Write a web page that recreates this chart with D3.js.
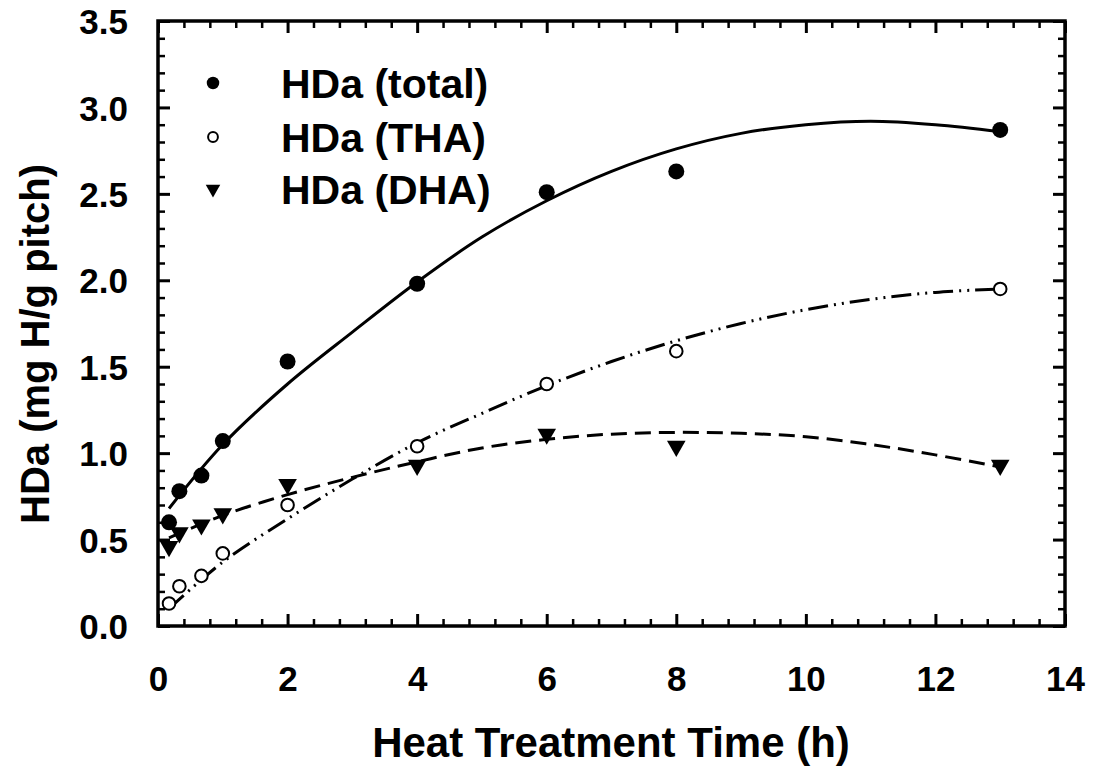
<!DOCTYPE html>
<html>
<head>
<meta charset="utf-8">
<script src="https://cdn.jsdelivr.net/npm/d3@7/dist/d3.min.js"></script>
<style>
  html, body { margin: 0; padding: 0; background: #fff; }
  svg { display: block; }
  text { font-family: "Liberation Sans", Arial, sans-serif; font-weight: bold; fill: #000; }
</style>
</head>
<body>
<svg id="chart" width="1094" height="771"></svg>
<script>
// ---- data ----
const times = [0.17, 0.33, 0.67, 1, 2, 4, 6, 8, 13];
const hdaTotal = [0.60, 0.78, 0.87, 1.07, 1.53, 1.98, 2.51, 2.63, 2.87];
const hdaTHA   = [0.13, 0.23, 0.29, 0.42, 0.70, 1.04, 1.40, 1.59, 1.95];
const hdaDHA   = [0.46, 0.54, 0.585, 0.65, 0.82, 0.93, 1.11, 1.04, 0.93];

// fitted trend curves as drawn in the reference
const fitX     = [0.17, 1, 2, 3, 4, 5, 6, 7, 8, 9, 10, 11, 12, 13];
const fitTotal = [0.68, 1.05, 1.40, 1.70, 1.99, 2.25, 2.46, 2.63, 2.76, 2.85, 2.90, 2.92, 2.90, 2.86];
const fitTHA   = [0.10, 0.37, 0.62, 0.85, 1.06, 1.23, 1.39, 1.53, 1.65, 1.75, 1.83, 1.89, 1.93, 1.95];
const fitDHA   = [0.51, 0.64, 0.76, 0.86, 0.95, 1.03, 1.08, 1.11, 1.12, 1.115, 1.095, 1.05, 0.99, 0.92];

const xMajor = [0, 2, 4, 6, 8, 10, 12, 14];
const yMajor = [0, 0.5, 1.0, 1.5, 2.0, 2.5, 3.0, 3.5];
const legendLabels = ["HDa (total)", "HDa (THA)", "HDa (DHA)"];
const xTitle = "Heat Treatment Time (h)";
const yTitle = "HDa (mg H/g pitch)";

// ---- layout ----
const svg = d3.select("#chart");
const L = 158, R = 1065, T = 21, B = 626;
const x = d3.scaleLinear().domain([0, 14]).range([L, R]);
const y = d3.scaleLinear().domain([0, 3.5]).range([B, T]);

const xMinor = d3.range(0, 14.0001, 0.4).filter(v => Math.abs(v / 2 - Math.round(v / 2)) > 1e-6);
const yMinor = d3.range(0, 3.5001, 0.1).filter(v => Math.abs(v / 0.5 - Math.round(v / 0.5)) > 1e-6);

function styleAxis(g, w) {
  g.select(".domain").remove();
  g.selectAll(".tick line").attr("stroke", "#000").attr("stroke-width", w);
}

// bottom
svg.append("g").attr("transform", `translate(0,${B})`)
  .call(d3.axisBottom(x).tickValues(xMajor).tickSize(-12).tickPadding(40).tickFormat(d3.format("d")))
  .call(g => { styleAxis(g, 3); g.selectAll("text").style("font-size", "35px").attr("dy", "0.71em"); });
svg.append("g").attr("transform", `translate(0,${B})`)
  .call(d3.axisBottom(x).tickValues(xMinor).tickSize(-7).tickFormat(""))
  .call(g => styleAxis(g, 2.5));
// top
svg.append("g").attr("transform", `translate(0,${T})`)
  .call(d3.axisTop(x).tickValues(xMajor).tickSize(-12).tickFormat(""))
  .call(g => styleAxis(g, 3));
svg.append("g").attr("transform", `translate(0,${T})`)
  .call(d3.axisTop(x).tickValues(xMinor).tickSize(-7).tickFormat(""))
  .call(g => styleAxis(g, 2.5));
// left
svg.append("g").attr("transform", `translate(${L},0)`)
  .call(d3.axisLeft(y).tickValues(yMajor).tickSize(-12).tickPadding(30).tickFormat(d3.format(".1f")))
  .call(g => { styleAxis(g, 3); g.selectAll("text").style("font-size", "35px").attr("dy", "0.36em"); });
svg.append("g").attr("transform", `translate(${L},0)`)
  .call(d3.axisLeft(y).tickValues(yMinor).tickSize(-7).tickFormat(""))
  .call(g => styleAxis(g, 2.5));
// right
svg.append("g").attr("transform", `translate(${R},0)`)
  .call(d3.axisRight(y).tickValues(yMajor).tickSize(-12).tickFormat(""))
  .call(g => styleAxis(g, 3));
svg.append("g").attr("transform", `translate(${R},0)`)
  .call(d3.axisRight(y).tickValues(yMinor).tickSize(-7).tickFormat(""))
  .call(g => styleAxis(g, 2.5));

// frame
svg.append("rect").attr("x", L).attr("y", T).attr("width", R - L).attr("height", B - T)
  .attr("fill", "none").attr("stroke", "#000").attr("stroke-width", 3.5);

// titles
svg.append("text").attr("x", 611).attr("y", 757).attr("text-anchor", "middle")
  .style("font-size", "42px").text(xTitle);
svg.append("text").attr("transform", `translate(49,344) rotate(-90)`)
  .attr("text-anchor", "middle").style("font-size", "40px").text(yTitle);

// ---- fit curves ----
const line = d3.line().x(d => x(d[0])).y(d => y(d[1])).curve(d3.curveCatmullRom.alpha(0.5));
const curves = [
  { vals: fitTotal, dash: null },
  { vals: fitTHA, dash: "20,6,2,6,2,6" },
  { vals: fitDHA, dash: "16,8" }
];
curves.forEach(c => {
  svg.append("path").datum(fitX.map((t, i) => [t, c.vals[i]]))
    .attr("d", line).attr("fill", "none").attr("stroke", "#000").attr("stroke-width", 3)
    .attr("stroke-dasharray", c.dash);
});

// ---- markers ----
const tri = d3.symbol().type(d3.symbolTriangle);
function drawMarker(g, kind, cx, cy, s) {
  if (kind === 0) {
    g.append("circle").attr("cx", cx).attr("cy", cy).attr("r", 8 * s).attr("fill", "#000");
  } else if (kind === 1) {
    g.append("circle").attr("cx", cx).attr("cy", cy).attr("r", 6.3 * s)
      .attr("fill", "#fff").attr("stroke", "#000").attr("stroke-width", 2);
  } else {
    g.append("path").attr("d", tri.size(150 * s * s)())
      .attr("transform", `translate(${cx},${cy}) rotate(180)`).attr("fill", "#000");
  }
}
const mg = svg.append("g");
[hdaDHA, hdaTHA, hdaTotal].forEach((vals, k) => {
  const kind = 2 - k;
  vals.forEach((v, i) => drawMarker(mg, kind, x(times[i]), y(v), 1));
});

// ---- legend ----
const legY = [83, 137, 189];
legendLabels.forEach((lab, i) => {
  drawMarker(svg, i, 213, legY[i], 0.78);
  svg.append("text").attr("x", 281).attr("y", legY[i]).attr("dy", "0.36em")
    .style("font-size", "41px").text(lab);
});
</script>
</body>
</html>
